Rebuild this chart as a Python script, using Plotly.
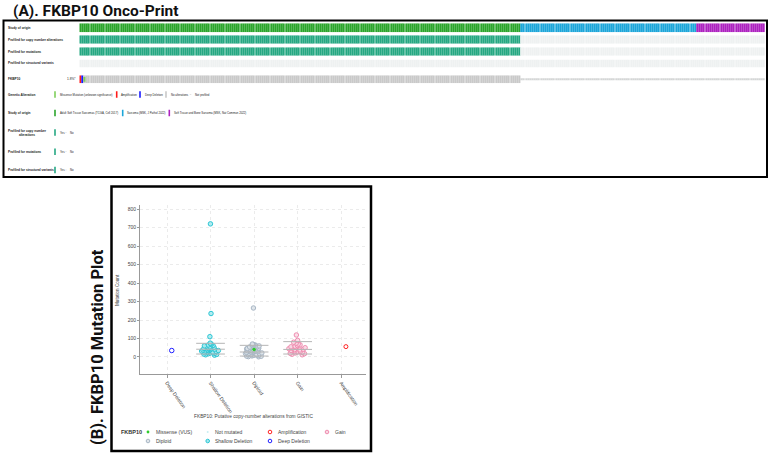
import plotly.graph_objects as go
import numpy as np

W, H = 770, 453


def px(x):
    return x / W


def py(y):
    return 1 - y / H


# ---------------- Data: (A) Onco-print ----------------
studies = [
    "Adult Soft Tissue Sarcomas (TCGA, Cell 2017)",
    "Sarcoma (MSK, J Pathol 2022)",
    "Soft Tissue and Bone Sarcoma (MSK, Nat Commun 2022)",
]
study_counts = [206, 82, 32]
study_colors = ["#2ba52b", "#1ca6d9", "#ad22c0"]
cna_profiled = [True, False, False]
mut_profiled = [True, False, False]
sv_profiled = [False, False, False]
fkbp10_alt_samples = [0, 1, 2]
fkbp10_alt_types = ["Amplification", "Deep Deletion", "Missense"]
fkbp10_altered_pct = "1.8%*"
track_labels = ["Study of origin", "Profiled for copy number alterations",
                "Profiled for mutations", "Profiled for structural variants", "FKBP10"]

# ---------------- Data: (B) Mutation plot ----------------
cna_categories = ["Deep Deletion", "Shallow Deletion", "Diploid", "Gain", "Amplification"]
mc_deep_deletion = [35]
mc_shallow_deletion = [720, 235, 110, 75, 72, 68, 65, 62, 60, 58, 55, 52, 50, 48, 46, 45, 44,
                       42, 40, 39, 38, 36, 35, 33, 32, 30, 29, 27, 26, 25, 23, 22, 20, 18, 16,
                       14, 12, 10]
mc_diploid = [265, 70, 68, 66, 64, 62, 60, 58, 56, 54, 52, 50, 48, 46, 45, 44, 42, 40, 38, 36,
              35, 34, 32, 30, 29, 28, 26, 25, 24, 22, 20, 19, 18, 16, 15, 14, 12, 10, 9, 8, 6,
              5, 4, 2, 1]
mc_gain = [119, 90, 80, 75, 70, 66, 62, 58, 55, 52, 50, 47, 45, 42, 40, 38, 35, 33, 30, 28, 25,
           22, 20, 18, 15, 12]
mc_amplification = [56]
missense_category = "Diploid"
missense_count = [40]
box_categories = ["Shallow Deletion", "Diploid", "Gain"]
box_q1 = [16, 5, 16]
box_median = [42, 27, 41]
box_q3 = [74, 63, 83]
y_ticks = [0, 100, 200, 300, 400, 500, 600, 700, 800]

# ---------------- Styles ----------------
C_TEAL = "#25a882"
C_GRAY = "#c9c9c9"
C_NP = "#eef1f1"
C_MISS = "#7fcf5a"
C_AMP = "#ff1a1a"
C_DEL = "#1a1aff"
FONT = "Liberation Sans"

fig = go.Figure()

# ---------- Onco-print bars ----------
N = sum(study_counts)
sample_idx = np.arange(N)
sample_study = np.repeat(np.arange(len(study_counts)), study_counts)

row_px = [(23.3, 32.3), (35.3, 43.7), (47.3, 55.7), (59.5, 67.5), (75.3, 83.3)]
yaxes_names = ["y2", "y3", "y4", "y5", "y6"]


def add_bars(ax, xs, colors, base, height):
    xs = list(xs)
    if not xs:
        return
    fig.add_trace(go.Bar(x=xs, y=[height] * len(xs), base=[base] * len(xs),
                         marker=dict(color=colors, line=dict(width=0)),
                         xaxis="x2", yaxis=ax, showlegend=False, hoverinfo="skip"))


# study of origin
add_bars("y2", sample_idx, [study_colors[s] for s in sample_study], 0, 1)
# profiled tracks
for ax, prof in zip(["y3", "y4", "y5"], [cna_profiled, mut_profiled, sv_profiled]):
    flags = np.array([prof[s] for s in sample_study])
    add_bars(ax, sample_idx[flags], C_TEAL, 0, 1)
    add_bars(ax, sample_idx[~flags], C_NP, 0, 1)
# FKBP10 track
gene_prof = np.array([cna_profiled[s] or mut_profiled[s] for s in sample_study])
alt_color = {"Amplification": C_AMP, "Deep Deletion": C_DEL}
full_cols = []
for i in sample_idx[gene_prof]:
    c = C_GRAY
    if i in fkbp10_alt_samples:
        c = alt_color.get(fkbp10_alt_types[fkbp10_alt_samples.index(i)], C_GRAY)
    full_cols.append(c)
add_bars("y6", sample_idx[gene_prof], full_cols, 0, 1)
add_bars("y6", sample_idx[~gene_prof], "#d4d6d6", 0.45, 0.1)
miss_x = [s for s, t in zip(fkbp10_alt_samples, fkbp10_alt_types) if t == "Missense"]
add_bars("y6", miss_x, C_MISS, 0.2, 0.6)

# ---------- Mutation plot ----------
cat_pos = {c: i for i, c in enumerate(cna_categories)}
series = [
    ("Deep Deletion", mc_deep_deletion, "#2020ff", "rgba(255,255,255,1)", 4.5),
    ("Shallow Deletion", mc_shallow_deletion, "#2cc6d4", "rgba(170,234,240,0.9)", 4.5),
    ("Diploid", mc_diploid, "#a9b7c5", "rgba(220,226,232,0.9)", 4.5),
    ("Gain", mc_gain, "#ef8db0", "rgba(250,218,230,0.9)", 4.5),
    ("Amplification", mc_amplification, "#ff2020", "rgba(255,255,255,1)", 4),
]

# quartile lines (behind points)
qx, qy = [], []
for cat, a, b, c in zip(box_categories, box_q1, box_median, box_q3):
    i = cat_pos[cat]
    for v in (a, b, c):
        qx += [i - 0.33, i + 0.33, None]
        qy += [v, v, None]
fig.add_trace(go.Scatter(x=qx, y=qy, mode="lines", line=dict(color="#b5b5b5", width=1),
                         showlegend=False, hoverinfo="skip", xaxis="x", yaxis="y"))

for cat, vals, lc, fc, sz in series:
    fig.add_trace(go.Box(
        x0=cat_pos[cat], y=vals, boxpoints="all", jitter=0.6, pointpos=0, width=0.7,
        fillcolor="rgba(0,0,0,0)", line=dict(width=0),
        marker=dict(size=sz, color=fc, line=dict(color=lc, width=1)),
        showlegend=False, hoverinfo="skip", xaxis="x", yaxis="y"))

fig.add_trace(go.Scatter(x=[cat_pos[missense_category]] * len(missense_count), y=missense_count,
                         mode="markers", marker=dict(size=3.5, color="#2ecc2e"),
                         showlegend=False, hoverinfo="skip", xaxis="x", yaxis="y"))

# ---------- Layout ----------
layout = dict(
    width=W, height=H, margin=dict(l=0, r=0, t=0, b=0),
    paper_bgcolor="white", plot_bgcolor="white",
    barmode="overlay", bargap=0.3, showlegend=False,
    font=dict(family=FONT, color="#333"),
    xaxis=dict(domain=[px(140), px(366)], range=[-0.62, 4.57], anchor="y",
               tickvals=list(range(len(cna_categories))), ticktext=cna_categories,
               tickangle=55, tickfont=dict(size=5, color="#444"),
               ticks="outside", ticklen=3, tickcolor="#999",
               showline=True, linecolor="#999", linewidth=1,
               showgrid=True, gridcolor="#ebebeb", griddash="dot", zeroline=False),
    yaxis=dict(domain=[py(374), py(205)], range=[-92, 822], anchor="x",
               tickvals=y_ticks, tickfont=dict(size=5, color="#444"),
               ticks="outside", ticklen=2, tickcolor="#999",
               showline=True, linecolor="#999", linewidth=1,
               showgrid=True, gridcolor="#ebebeb", griddash="dot", zeroline=False),
    xaxis2=dict(domain=[px(79.3), px(765)], range=[-0.5, N - 0.5], anchor="y2", visible=False),
)
for ax, (t, b) in zip(yaxes_names, row_px):
    key = "yaxis" + ax[1:]
    layout[key] = dict(domain=[py(b), py(t)], range=[0, 1], anchor="x2", visible=False)
fig.update_layout(**layout)

shapes = []
ann = []

# panel borders
shapes.append(dict(type="rect", xref="paper", yref="paper", x0=px(3.5), x1=px(767), y0=py(177), y1=py(20.5),
                   line=dict(color="black", width=2)))
shapes.append(dict(type="rect", xref="paper", yref="paper", x0=px(111.5), x1=px(371), y0=py(451), y1=py(186.5),
                   line=dict(color="black", width=2.5)))

# titles
ann.append(dict(text="<b>(A). FKBP10 Onco-Print</b>", x=px(11), y=py(10.5), xanchor="left", yanchor="middle",
                font=dict(family="Roboto", size=15.5, color="#111")))
ann.append(dict(text="<b>(B). FKBP10 Mutation Plot</b>", x=px(97), y=py(347), xanchor="center", yanchor="middle",
                textangle=-90, font=dict(family="Roboto", size=16.5, color="#111")))


def label(text, x, y, size=3.2, bold=True, color="#222", anchor="left"):
    t = f"<b>{text}</b>" if bold else text
    ann.append(dict(text=t, x=px(x), y=py(y), xanchor=anchor, yanchor="middle",
                    font=dict(family=FONT, size=size, color=color)))


# track labels
for txt, (t, b) in zip(track_labels, row_px):
    label(txt, 6, (t + b) / 2)
label(fkbp10_altered_pct, 77.5, 79.3, bold=False, anchor="right")


# legend section (top panel)
def swatch(x, y, color, h=6.5, w=1.6):
    shapes.append(dict(type="rect", xref="paper", yref="paper", x0=px(x - w / 2), x1=px(x + w / 2),
                       y0=py(y + h / 2), y1=py(y - h / 2), fillcolor=color, line=dict(width=0)))


label("Genetic Alteration", 6, 94.5)
g_items = [("Missense Mutation (unknown significance)", 55, C_MISS),
           ("Amplification", 116.7, C_AMP), ("Deep Deletion", 140, C_DEL),
           ("No alterations", 166, C_GRAY)]
for txt, x, c in g_items:
    swatch(x, 94.5, c)
    label(txt, x + 2.5, 94.5, size=2.8, bold=False)
swatch(190.5, 94.5, "#d0d0d0", h=0.6, w=1.6)
label("Not profiled", 193, 94.5, size=2.8, bold=False)

label("Study of origin", 6, 113)
for txt, x, c in zip(studies, [55, 122.7, 169.3], study_colors):
    swatch(x, 113, c)
    label(txt, x + 2.5, 113, size=2.8, bold=False)

for txt, y in [("Profiled for copy number<br>alterations", 132.5), ("Profiled for mutations", 151.7),
               ("Profiled for structural variants", 170)]:
    label(txt, 6, y)
    swatch(55, y, C_TEAL)
    label("Yes", 57.5, y, size=2.8, bold=False)
    swatch(66, y, "#d0d0d0", h=0.6, w=1.4)
    label("No", 68, y, size=2.8, bold=False)

# axis titles for mutation plot
ann.append(dict(text="Mutation Count", x=px(117), y=py(290), textangle=-90,
                xanchor="center", yanchor="middle", font=dict(family=FONT, size=4.6, color="#444")))
ann.append(dict(text="FKBP10: Putative copy-number alterations from GISTIC", x=px(253), y=py(416),
                xanchor="center", yanchor="middle",
                font=dict(family=FONT, size=4.8, color="#444")))

# bottom legend
label("FKBP10", 119, 432, size=5.5, bold=True, color="#333")


def circ(x, y, r, line_c, fill_c, lw=1):
    shapes.append(dict(type="circle", xref="paper", yref="paper", x0=px(x - r), x1=px(x + r),
                       y0=py(y + r), y1=py(y - r), fillcolor=fill_c, line=dict(color=line_c, width=lw)))


leg = [
    ("Missense (VUS)", 148, 432, "#2ecc2e", "#2ecc2e", 1.4, 0),
    ("Not mutated", 207.7, 432, "#c9eef2", "#c9eef2", 1.0, 0),
    ("Amplification", 270, 432, "#ff2020", "white", 1.8, 1),
    ("Gain", 327, 432, "#ef8db0", "#fad6e2", 1.8, 1),
    ("Diploid", 148, 441, "#a9b7c5", "#e0e5ea", 1.8, 1),
    ("Shallow Deletion", 207.7, 441, "#2cc6d4", "#a0e8ee", 1.8, 1),
    ("Deep Deletion", 270, 441, "#2020ff", "white", 1.8, 1),
]
for txt, x, y, lc, fc, r, lw in leg:
    circ(x, y, r, lc, fc, lw)
    label(txt, x + 5.5, y, size=5, bold=False, color="#444")

for a in ann:
    a["showarrow"] = False
    a["xref"] = "paper"
    a["yref"] = "paper"
fig.update_layout(shapes=shapes, annotations=ann)

fig.write_html("out.html")
